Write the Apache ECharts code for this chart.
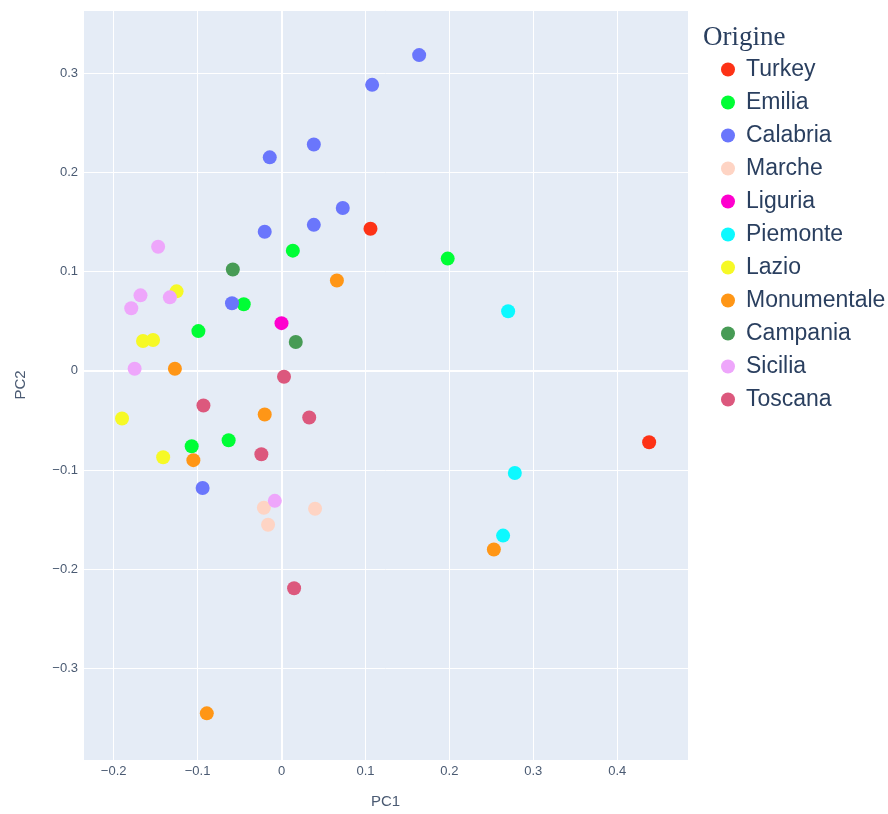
<!DOCTYPE html>
<html>
<head>
<meta charset="UTF-8">
<title>PCA Origine</title>
<script src="https://cdn.jsdelivr.net/npm/echarts@6/dist/echarts.min.js"></script>
<style>
  html, body { margin: 0; padding: 0; background: #fff; }
  #main { width: 888px; height: 814px; }
</style>
</head>
<body>
<div id="main"></div>
<script>
// regions (legend order) and their colours
var origini = ['Turkey', 'Emilia', 'Calabria', 'Marche', 'Liguria', 'Piemonte',
               'Lazio', 'Monumentale', 'Campania', 'Sicilia', 'Toscana'];
var colori = ['#FD3216', '#00FE35', '#6A76FC', '#FED4C4', '#FE00CE', '#0DF9FF',
              '#F6F926', '#FF9616', '#479B55', '#EEA6FB', '#DC587D'];

// points [PC1, PC2]
var turkey = [[0.106, 0.143], [0.438, -0.072]];
var emilia = [[0.0135, 0.121], [0.198, 0.113], [-0.045, 0.067], [-0.099, 0.040],
              [-0.107, -0.076], [-0.063, -0.070]];
var calabria = [[0.164, 0.318], [0.108, 0.288], [0.0385, 0.228], [-0.014, 0.215],
                [0.073, 0.164], [0.0385, 0.147], [-0.020, 0.140], [-0.059, 0.068],
                [-0.094, -0.118]];
var marche = [[-0.021, -0.138], [-0.016, -0.155], [0.040, -0.139]];
var liguria = [[0.000, 0.048]];
var piemonte = [[0.270, 0.060], [0.278, -0.103], [0.264, -0.166]];
var lazio = [[-0.125, 0.080], [-0.165, 0.030], [-0.153, 0.031], [-0.190, -0.048],
             [-0.141, -0.087]];
var monumentale = [[0.066, 0.091], [-0.127, 0.002], [-0.020, -0.044], [-0.105, -0.090],
                   [0.253, -0.180], [-0.089, -0.345]];
var campania = [[-0.058, 0.102], [0.017, 0.029]];
var sicilia = [[-0.147, 0.125], [-0.168, 0.076], [-0.179, 0.063], [-0.133, 0.074],
               [-0.175, 0.002], [-0.008, -0.131]];
var toscana = [[0.003, -0.006], [-0.093, -0.035], [0.033, -0.047], [-0.024, -0.084],
               [0.015, -0.219]];

var punti = [turkey, emilia, calabria, marche, liguria, piemonte,
             lazio, monumentale, campania, sicilia, toscana];

var xRange = [-0.2365, 0.4843];
var yRange = [-0.392, 0.3634];

var chart = echarts.init(document.getElementById('main'));

var testo = '#2a3f5f';
var tickCol = '#4a5a72';
function meno(v) {
  var s = String(Math.round(v * 10) / 10);
  return s.replace('-', '\u2212');
}

var series = [];
for (var i = 0; i < origini.length; i++) {
  series.push({
    name: origini[i],
    type: 'scatter',
    data: punti[i],
    symbol: 'circle',
    symbolSize: 14,
    itemStyle: { color: colori[i], opacity: 1 },
    z: 3 + i
  });
}
// zero lines, like plotly's zeroline
series.push({
  type: 'scatter',
  data: [],
  silent: true,
  z: 2,
  markLine: {
    silent: true,
    symbol: 'none',
    label: { show: false },
    lineStyle: { color: '#fff', width: 2, type: 'solid' },
    data: [{ xAxis: 0 }, { yAxis: 0 }],
    animation: false
  }
});

var option = {
  animation: false,
  backgroundColor: '#fff',
  title: {
    text: 'Origine',
    left: 698,
    top: 19,
    textStyle: {
      fontFamily: 'Liberation Serif',
      fontSize: 27,
      fontWeight: 'normal',
      color: testo
    }
  },
  legend: {
    orient: 'vertical',
    left: 716,
    top: 53,
    itemWidth: 14,
    itemHeight: 14,
    itemGap: 10,
    icon: 'circle',
    data: origini,
    textStyle: {
      fontFamily: 'Liberation Sans',
      fontSize: 23,
      lineHeight: 23,
      color: testo,
      padding: [0, 0, 0, 6]
    }
  },
  grid: {
    left: 83,
    right: 200,
    top: 10,
    bottom: 50,
    containLabel: false,
    show: true,
    backgroundColor: '#E5ECF6',
    borderWidth: 0
  },
  xAxis: {
    type: 'value',
    min: xRange[0],
    max: xRange[1],
    splitNumber: 7,
    minInterval: 0.1,
    maxInterval: 0.1,
    name: 'PC1',
    nameLocation: 'middle',
    nameGap: 34,
    nameTextStyle: { fontFamily: 'Liberation Sans', fontSize: 15, color: tickCol },
    axisLine: { show: false },
    axisTick: { show: false },
    axisLabel: {
      showMinLabel: false,
      showMaxLabel: false,
      margin: 5,
      fontFamily: 'Liberation Sans',
      fontSize: 13,
      color: tickCol,
      formatter: meno
    },
    splitLine: { show: true, lineStyle: { color: '#fff', width: 1 } }
  },
  yAxis: {
    type: 'value',
    min: yRange[0],
    max: yRange[1],
    splitNumber: 7,
    minInterval: 0.1,
    maxInterval: 0.1,
    name: 'PC2',
    nameLocation: 'middle',
    nameGap: 55,
    nameTextStyle: { fontFamily: 'Liberation Sans', fontSize: 15, color: tickCol },
    axisLine: { show: false },
    axisTick: { show: false },
    axisLabel: {
      showMinLabel: false,
      showMaxLabel: false,
      margin: 5,
      fontFamily: 'Liberation Sans',
      fontSize: 13,
      color: tickCol,
      formatter: meno
    },
    splitLine: { show: true, lineStyle: { color: '#fff', width: 1 } }
  },
  series: series
};

chart.setOption(option);
</script>
</body>
</html>
